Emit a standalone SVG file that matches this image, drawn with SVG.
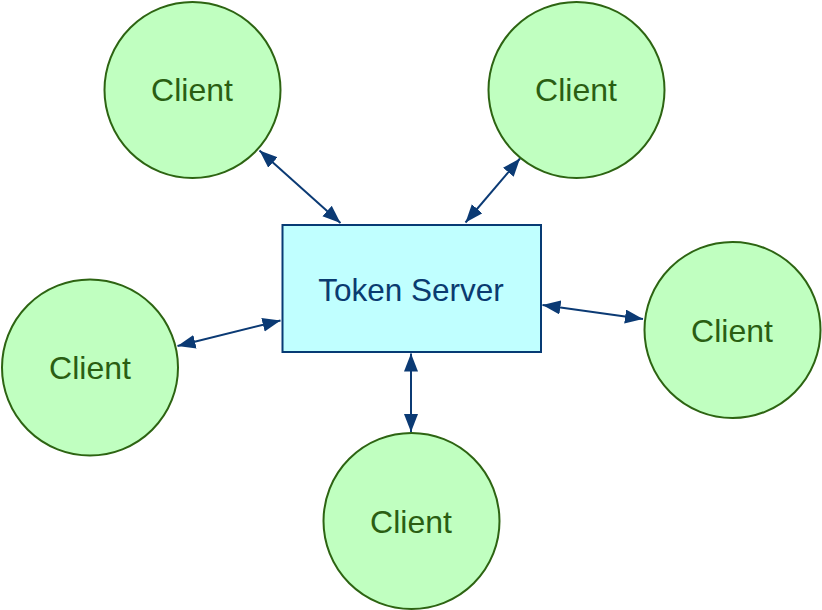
<svg xmlns="http://www.w3.org/2000/svg" width="822" height="610" viewBox="0 0 822 610">
<style>
.client circle{fill:#c0ffc0;stroke:#2d6412;stroke-width:2}
.client text{fill:#2a5e12;font-family:"Liberation Sans",Arial,sans-serif;font-size:32px;text-anchor:middle}
#server rect{fill:#c0ffff;stroke:#073b74;stroke-width:2}
#server text{fill:#0a3b70;font-family:"Liberation Sans",Arial,sans-serif;font-size:31.5px;text-anchor:middle}
#connectors line{stroke:#0b3a74;stroke-width:2;marker-start:url(#ah);marker-end:url(#ah)}
</style>
<defs>
<marker id="ah" markerUnits="userSpaceOnUse" markerWidth="19" markerHeight="15" refX="18" refY="7" orient="auto-start-reverse">
<path d="M0,0 L18,7 L0,14 Z" fill="#0b3a74"/>
</marker>
</defs>
<rect width="822" height="610" fill="#ffffff"/>
<g id="connectors">
<line x1="259.5" y1="150.5" x2="340.5" y2="223"/>
<line x1="520" y1="158.5" x2="465.5" y2="222.5"/>
<line x1="177.5" y1="346" x2="280.5" y2="320.5"/>
<line x1="542.5" y1="305" x2="643" y2="319"/>
<line x1="411" y1="353.5" x2="411" y2="432"/>
</g>
<g id="server">
<rect x="282.5" y="225" width="258.5" height="127"/>
<text x="411" y="301">Token Server</text>
</g>
<g id="client-top-left" class="client">
<circle cx="192.5" cy="90" r="88"/>
<text x="192" y="101">Client</text>
</g>
<g id="client-top-right" class="client">
<circle cx="576.5" cy="90" r="88"/>
<text x="576" y="101">Client</text>
</g>
<g id="client-left" class="client">
<circle cx="90" cy="367.5" r="88"/>
<text x="90" y="379">Client</text>
</g>
<g id="client-right" class="client">
<circle cx="732.5" cy="330" r="88"/>
<text x="732" y="342">Client</text>
</g>
<g id="client-bottom" class="client">
<circle cx="411.5" cy="521" r="88"/>
<text x="411" y="533">Client</text>
</g>
</svg>
